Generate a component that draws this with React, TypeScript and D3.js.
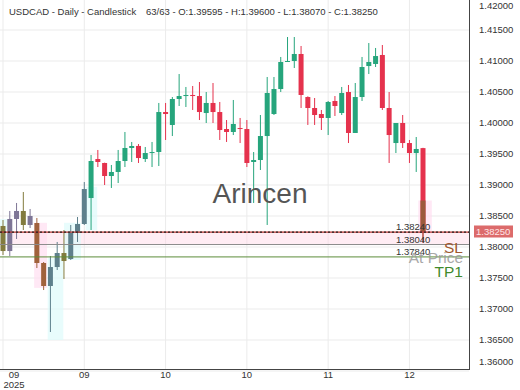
import React from 'react'
import * as d3 from 'd3'

const W = 520
const H = 390

// OHLC, one entry per daily candle
const opens = [
  1.38339, 1.37935, 1.38452, 1.38581, 1.38355, 1.38387, 1.37742, 1.37371, 1.37677, 1.37903,
  1.37806, 1.38226, 1.38371, 1.3879, 1.39419, 1.39355, 1.39145, 1.3921, 1.39387, 1.39597,
  1.3963, 1.39419, 1.39516, 1.39532, 1.40177, 1.39968, 1.40387, 1.40435, 1.40452, 1.40435,
  1.40161, 1.40323, 1.40177, 1.39903, 1.39855, 1.39919, 1.39903, 1.39371, 1.39403, 1.3979,
  1.40145, 1.40548, 1.40984, 1.41, 1.41113, 1.40419, 1.40242, 1.40145, 1.40081, 1.40355,
  1.40161, 1.405, 1.39839, 1.40419, 1.40919, 1.40952, 1.41097, 1.40242, 1.39677, 1.4,
  1.39677, 1.39516, 1.39595
]
const highs = [
  1.38435, 1.38581, 1.3871, 1.38887, 1.38613, 1.38468, 1.37758, 1.37855, 1.38081, 1.38274,
  1.38355, 1.38484, 1.39048, 1.39484, 1.39565, 1.3936, 1.39323, 1.39565, 1.39855, 1.39694,
  1.39661, 1.39613, 1.39694, 1.40323, 1.40323, 1.40419, 1.4079, 1.40581, 1.40597, 1.40661,
  1.405, 1.40645, 1.40339, 1.40048, 1.40371, 1.40081, 1.40048, 1.39532, 1.40129, 1.40742,
  1.40742, 1.41065, 1.41387, 1.41387, 1.41242, 1.4043, 1.40403, 1.4021, 1.40355, 1.40435,
  1.40581, 1.40613, 1.40645, 1.41065, 1.4129, 1.4121, 1.41258, 1.405, 1.4, 1.40129,
  1.39726, 1.39774, 1.396
]
const lows = [
  1.37871, 1.37855, 1.38129, 1.38274, 1.38306, 1.37661, 1.37306, 1.36629, 1.37629, 1.37484,
  1.3779, 1.38081, 1.38355, 1.38274, 1.3929, 1.39, 1.38952, 1.39032, 1.3929, 1.39371,
  1.39355, 1.39371, 1.3929, 1.39306, 1.39726, 1.3979, 1.40274, 1.40258, 1.4021, 1.40048,
  1.4, 1.4, 1.39726, 1.39694, 1.39806, 1.39677, 1.3929, 1.3871, 1.39242, 1.38355,
  1.40129, 1.405, 1.40984, 1.40887, 1.40242, 1.39968, 1.39968, 1.39887, 1.39806, 1.40113,
  1.40129, 1.39677, 1.39839, 1.40355, 1.4079, 1.40903, 1.4021, 1.39355, 1.39516, 1.39597,
  1.39355, 1.3921, 1.3807
]
const closes = [
  1.37935, 1.38452, 1.38581, 1.38355, 1.385, 1.37742, 1.37371, 1.37677, 1.37903, 1.37774,
  1.38226, 1.38371, 1.38935, 1.39387, 1.39371, 1.39145, 1.3921, 1.39387, 1.39597, 1.39629,
  1.39435, 1.39516, 1.39532, 1.40177, 1.40145, 1.40387, 1.40435, 1.40452, 1.40435, 1.40177,
  1.40323, 1.40177, 1.39887, 1.39855, 1.39984, 1.39903, 1.39355, 1.39403, 1.3979, 1.40484,
  1.40548, 1.40984, 1.41, 1.41113, 1.40452, 1.40242, 1.40129, 1.40081, 1.40339, 1.40274,
  1.40484, 1.39839, 1.40419, 1.40903, 1.40984, 1.4108, 1.40242, 1.39806, 1.4, 1.39677,
  1.39516, 1.39581, 1.3825
]

// x axis: candle index -> month label
const xTickIdx = [0, 12, 24, 36, 48, 60]
const xTickLabels = ['09', '09', '10', '10', '11', '12']

// trade levels
const lastPrice = 1.3825
const entryLevel = 1.3824
const slLevel = 1.3804
const tpLevel = 1.3784

// highlighted zones (candle index range, price range)
const zoneFrom = [-0.5, 4.6, 6.6, 9.0, 12.2, 61.3]
const zoneTo = [0.6, 6.5, 8.9, 11.5, 13.9, 63.3]
const zoneHi = [1.3845, 1.3839, 1.3782, 1.3839, 1.3897, 1.3875]
const zoneLo = [1.3808, 1.3734, 1.365, 1.3779, 1.3827, 1.3822]
const zoneKind = ['cyan', 'pink', 'cyan', 'cyan', 'cyan', 'pink']

// washed-out colours on the first candles
const mutedColors = [
  '#827b3e', '#7e7696', '#7e7696', '#827b3e', '#7e7696', '#a0623c', '#a0623c',
  '#5e808c', '#5e808c', '#827b3e', '#5e808c', '#5e808c', '#5e808c'
]

const UP = '#26a57c'
const DOWN = '#e5324d'
const FONT = '"Liberation Sans", Arial, sans-serif'

export default function App() {
  const plotR = 469
  const plotB = 369

  const y = d3.scaleLinear().domain([1.36, 1.42]).range([371, -1])
  const x = d3.scaleLinear().domain([0, opens.length - 1]).range([3, 423])
  const bw = 5
  const yTicks = y.ticks(12)
  const fmt = d3.format('.5f')

  const candles = opens.map((o, i) => ({ o, h: highs[i], l: lows[i], c: closes[i] }))

  return (
    <svg width={W} height={H} style={{ position: 'absolute', left: 0, top: 0, background: '#fff' }} fontFamily={FONT}>
      <rect width={W} height={H} fill="#fff" />
      {/* grid */}
      {yTicks.map(t => (
        <line key={'gy' + t} x1={0} x2={plotR} y1={y(t)} y2={y(t)} stroke="#ebebeb" />
      ))}
      {xTickIdx.map(i => (
        <line key={'gx' + i} x1={x(i)} x2={x(i)} y1={0} y2={plotB} stroke="#ebebeb" />
      ))}

      {/* entry / SL band */}
      <rect x={0} width={plotR} y={y(entryLevel)} height={y(slLevel) - y(entryLevel)} fill="#ffd6e6" opacity={0.45} />

      {/* zones */}
      {zoneFrom.map((f, k) => (
        <rect
          key={'z' + k}
          x={Math.max(0, x(f))}
          width={x(zoneTo[k]) - Math.max(0, x(f))}
          y={y(zoneHi[k])}
          height={y(zoneLo[k]) - y(zoneHi[k])}
          fill={zoneKind[k] === 'pink' ? '#ffdcf0' : '#dcfbfb'}
          opacity={0.65}
        />
      ))}

      {/* candles */}
      {candles.map((d, i) => {
        const col = i < mutedColors.length ? mutedColors[i] : d.c >= d.o ? UP : DOWN
        const top = y(Math.max(d.o, d.c))
        const bot = y(Math.min(d.o, d.c))
        return (
          <g key={'c' + i}>
            <line x1={x(i)} x2={x(i)} y1={y(d.h)} y2={y(d.l)} stroke={col} strokeWidth={1} />
            <rect x={x(i) - bw / 2} width={bw} y={top} height={Math.max(1, bot - top)} fill={col} />
          </g>
        )
      })}
      {/* last candle part inside the pink zone */}
      {(() => {
        const i = candles.length - 1
        const d = candles[i]
        const zt = y(zoneHi[5])
        return (
          <g>
            <rect x={x(i) - bw / 2} width={bw} y={zt} height={y(d.c) - zt} fill="#9c5a3c" />
            <line x1={x(i)} x2={x(i)} y1={y(d.c)} y2={y(d.l)} stroke="#9c5a3c" />
          </g>
        )
      })()}

      {/* level lines */}
      <line x1={0} x2={plotR} y1={y(slLevel)} y2={y(slLevel)} stroke="#8c8c8c" />
      <line x1={0} x2={plotR} y1={y(tpLevel)} y2={y(tpLevel)} stroke="#5b8c3a" />
      <line x1={0} x2={plotR} y1={y(entryLevel)} y2={y(entryLevel)} stroke="#b5332e" strokeWidth={1.4} />
      <line x1={0} x2={plotR} y1={y(entryLevel)} y2={y(entryLevel)} stroke="#222" strokeWidth={1.4} strokeDasharray="2,2" />

      {/* level labels */}
      <text x={396} y={y(entryLevel) - 2} fontSize={9.5} fill="#333">{fmt(entryLevel)}</text>
      <text x={396} y={y(slLevel) - 2} fontSize={9.5} fill="#333">{fmt(slLevel)}</text>
      <text x={396} y={y(tpLevel) - 2} fontSize={9.5} fill="#333">{fmt(tpLevel)}</text>
      <text x={463} y={y(slLevel) + 8} fontSize={15.5} fill="#a0582f" textAnchor="end">SL</text>
      <text x={463} y={y(tpLevel) + 6} fontSize={15.5} fill="#9a9a9a" opacity={0.85} textAnchor="end">At Price</text>
      <text x={463} y={y(tpLevel) + 20} fontSize={15.5} fill="#3f8a2c" textAnchor="end">TP1</text>

      {/* watermark */}
      <text x={260} y={203} fontSize={28} fill="#555" textAnchor="middle">Arincen</text>

      {/* axes */}
      <line x1={plotR + 0.5} x2={plotR + 0.5} y1={0} y2={plotB + 1} stroke="#444" />
      <line x1={0} x2={plotR + 1} y1={plotB + 0.5} y2={plotB + 0.5} stroke="#444" />
      {yTicks.map(t => (
        <text
          key={'ty' + t}
          x={479}
          y={Math.min(362, Math.max(6, y(t)))}
          dy="0.35em"
          fontSize={9.5}
          fill="#333"
        >
          {fmt(t)}
        </text>
      ))}
      {/* last price tag */}
      <rect x={474} y={y(lastPrice) - 6} width={39} height={12} fill="#dc6b6b" />
      <text x={476} y={y(lastPrice)} dy="0.35em" fontSize={9.5} fill="#ffe6e6">{fmt(lastPrice)}</text>

      {xTickIdx.map((i, k) => (
        <text
          key={'tx' + i}
          x={Math.max(14, x(i))}
          y={377.5}
          fontSize={9.5}
          fill="#333"
          textAnchor="middle"
        >
          {xTickLabels[k]}
        </text>
      ))}
      <text x={14} y={388} fontSize={9.5} fill="#333" textAnchor="middle">2025</text>

      {/* title */}
      <text x={9} y={15} fontSize={9.5} fill="#333">USDCAD - Daily - Candlestick</text>
      <text x={146} y={15} fontSize={9.5} fill="#333">
        63/63 - O:1.39595 - H:1.39600 - L:1.38070 - C:1.38250
      </text>
    </svg>
  )
}
